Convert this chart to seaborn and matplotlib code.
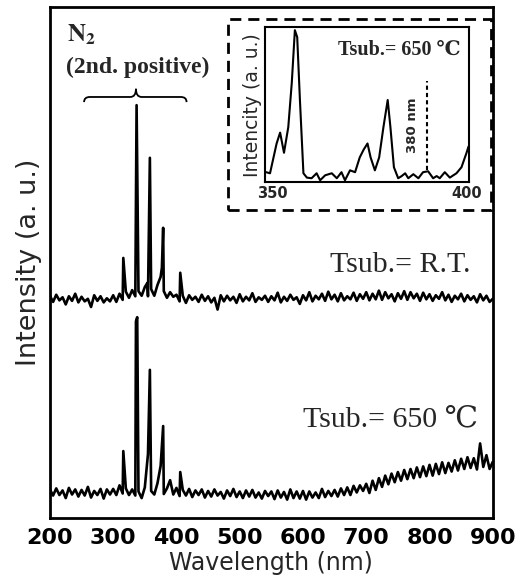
import numpy as np
import pandas as pd
import matplotlib
matplotlib.use('Agg')
import matplotlib.pyplot as plt
import seaborn as sns
from matplotlib.patches import Rectangle, PathPatch
from matplotlib.path import Path

# 主圖: 5 nm 取樣的基線 (讀圖估計, 任意單位 0-100)
wl_grid = np.arange(200, 901, 5)

rt_base = [
    43.5, 42.3, 43.7, 42.6, 43.2, 41.8, 43.4, 42.5, 43.9, 42.2,
    43.3, 42.4, 42.9, 41.3, 43.6, 42.5, 43.4, 42.2, 43.0, 42.4,
    43.6, 42.3, 43.9, 42.7, 44.3, 43.1, 44.6, 43.4, 44.4, 43.5,
    45.2, 43.4, 44.8, 43.5, 45.6, 47.2, 44.4, 43.1, 44.2, 43.3,
    43.7, 42.4, 43.5, 42.1, 43.6, 42.7, 43.3, 42.3, 43.7, 42.5,
    43.4, 42.2, 43.1, 40.8, 43.6, 42.4, 43.5, 42.6, 43.3, 42.1,
    43.8, 42.4, 43.3, 42.6, 44.0, 42.3, 43.2, 42.7, 43.5, 42.3,
    43.4, 42.6, 44.1, 42.2, 43.3, 42.5, 43.7, 42.7, 43.2, 41.9,
    43.6, 42.6, 44.2, 42.4, 43.5, 42.8, 43.9, 42.5, 44.3, 42.8,
    43.7, 42.4, 44.0, 42.6, 43.4, 42.8, 44.1, 42.5, 43.8, 42.9,
    44.2, 42.6, 43.9, 42.8, 44.5, 42.7, 44.2, 43.0, 43.8, 42.4,
    44.0, 42.9, 44.4, 42.7, 44.2, 43.0, 43.9, 42.5, 44.1, 42.8,
    43.8, 42.5, 43.6, 42.9, 44.2, 42.6, 43.7, 42.3, 43.5, 42.8,
    43.9, 42.4, 43.6, 42.7, 43.4, 42.2, 43.8, 42.6, 43.5, 42.3,
    42.9,
]

hot_base = [
    5.6, 4.4, 5.8, 4.5, 5.4, 3.9, 5.9, 4.6, 5.6, 4.2,
    5.5, 4.4, 6.1, 4.0, 5.3, 4.5, 5.7, 3.8, 5.6, 4.6,
    5.7, 4.5, 6.4, 4.8, 5.8, 4.5, 5.6, 4.4, 5.2, 3.9,
    6.0, 12.5, 5.3, 4.6, 6.8, 10.2, 4.7, 5.8, 7.4, 4.6,
    5.9, 4.3, 5.5, 4.4, 5.7, 4.1, 5.4, 4.5, 5.6, 4.0,
    5.3, 4.2, 5.6, 4.4, 5.1, 3.8, 5.4, 4.3, 5.7, 4.1,
    5.2, 3.9, 5.4, 4.2, 5.5, 4.0, 5.0, 3.8, 5.3, 4.3,
    5.2, 3.7, 5.4, 4.0, 5.1, 3.6, 5.6, 3.9, 5.2, 3.8,
    5.3, 3.6, 5.2, 4.0, 5.0, 3.9, 5.7, 4.1, 5.3, 4.3,
    5.5, 4.2, 5.8, 4.5, 6.0, 4.5, 6.3, 5.0, 6.4, 5.3,
    6.7, 4.9, 7.3, 5.5, 7.8, 6.1, 8.3, 6.6, 8.7, 7.0,
    9.0, 7.3, 9.4, 7.6, 9.6, 7.8, 9.9, 8.0, 10.1, 8.2,
    10.4, 8.3, 10.6, 8.6, 10.9, 8.8, 10.8, 9.1, 11.3, 9.3,
    11.6, 9.6, 11.9, 9.8, 11.7, 9.5, 14.6, 10.0, 12.3, 9.6,
    11.0,
]

# N2 第二正帶的尖峰
rt_peak_wl = [316, 337, 354, 358, 377, 379, 406]
rt_peak_int = [50.9, 80.8, 46.0, 70.5, 49.0, 56.8, 48.0]
hot_peak_wl = [316, 336, 338, 358, 379, 406]
hot_peak_int = [13.1, 38.5, 39.3, 29.0, 18.0, 9.0]

# 插圖 (650 ℃, 350-400 nm)
ins_wl = [348.3, 349.3, 351.0, 351.9, 352.9, 354.0, 354.9, 355.7, 356.3, 357.0,
          357.9, 358.8, 360.0, 361.3, 362.2, 363.5, 365.2, 366.5, 367.7, 368.6,
          369.9, 371.2, 372.4, 373.4, 374.4, 375.2, 376.3, 377.4, 378.5, 379.6,
          380.3, 381.2, 382.3, 383.2, 384.1, 384.9, 386.2, 387.5, 388.7, 390.0,
          391.3, 392.2, 393.0, 394.3, 395.6, 396.5, 397.3, 398.6, 399.9, 400.4]
ins_int = [0.065, 0.058, 0.25, 0.32, 0.19, 0.355, 0.64, 0.98, 0.935, 0.53,
           0.058, 0.03, 0.026, 0.058, 0.013, 0.045, 0.058, 0.026, 0.065, 0.013,
           0.077, 0.065, 0.16, 0.21, 0.25, 0.16, 0.077, 0.16, 0.355, 0.53,
           0.355, 0.097, 0.026, 0.04, 0.058, 0.026, 0.052, 0.026, 0.065, 0.071,
           0.026, 0.04, 0.026, 0.065, 0.03, 0.045, 0.058, 0.097, 0.19, 0.23]
ins_mark_wl = 389.8

main_ticks = [200, 300, 400, 500, 600, 700, 800, 900]
ins_ticks = [350, 400]


def spectrum(base, pk_wl, pk_int):
    d = pd.DataFrame({'wl': np.concatenate([wl_grid, pk_wl]),
                      'I': np.concatenate([base, pk_int])})
    return d.sort_values('wl')


df_rt = spectrum(rt_base, rt_peak_wl, rt_peak_int)
df_hot = spectrum(hot_base, hot_peak_wl, hot_peak_int)
df_ins = pd.DataFrame({'wl': ins_wl, 'I': ins_int})

sns.set_style('white')
plt.rcParams['mathtext.fontset'] = 'stix'
serif = ['Liberation Serif', 'DejaVu Serif', 'Noto Sans CJK JP']

fig = plt.figure(figsize=(5.31, 5.88), dpi=100)
ax = fig.add_axes([0.094, 0.119, 0.834, 0.869])

sns.lineplot(data=df_rt, x='wl', y='I', ax=ax, color='black', lw=1.9, estimator=None, sort=False)
sns.lineplot(data=df_hot, x='wl', y='I', ax=ax, color='black', lw=1.9, estimator=None, sort=False)

ax.set_xlim(200, 900)
ax.set_ylim(0, 100)
ax.set_xticks(main_ticks)
ax.set_xticklabels([str(t) for t in main_ticks], fontweight='bold')
ax.tick_params(axis='x', direction='in', length=9, width=1.5, labelsize=16, pad=7, colors='black')
ax.tick_params(axis='y', left=False, labelleft=False)
ax.set_xlabel('Wavelength (nm)', fontsize=17, labelpad=2)
ax.set_ylabel('Intensity (a. u.)', fontsize=19.5, labelpad=6)
for s in ax.spines.values():
    s.set_color('black')
    s.set_linewidth(2)

# 標註
ax.text(227, 94.5, r'$\mathbf{N}_\mathbf{2}$', fontsize=18, ha='left', va='center')
ax.text(226, 88.1, '(2nd. positive)', family=serif, fontweight='bold', fontsize=17,
        ha='left', va='center')
ax.text(642, 49.5, 'Tsub.= R.T.', family=serif, fontsize=21.5, ha='left', va='center')
ax.text(600, 19.2, 'Tsub.= 650 ℃', family=serif, fontsize=21.5, ha='left', va='center')

# 大括號
x0, x1, xm, yb, a = 254, 416, 336, 82.4, 9
verts = [(x0, yb - 1.0), (x0, yb), (x0 + a, yb), (xm - a, yb), (xm, yb), (xm, yb + 1.6),
         (xm, yb), (xm + a, yb), (x1 - a, yb), (x1, yb), (x1, yb - 1.0)]
codes = [Path.MOVETO, Path.CURVE3, Path.CURVE3, Path.LINETO, Path.CURVE3, Path.CURVE3,
         Path.CURVE3, Path.CURVE3, Path.LINETO, Path.CURVE3, Path.CURVE3]
ax.add_patch(PathPatch(Path(verts, codes), fill=False, lw=1.3, color='black'))

# 插圖
ins = fig.add_axes([0.499, 0.690, 0.384, 0.264])
sns.lineplot(data=df_ins, x='wl', y='I', ax=ins, color='black', lw=1.5, estimator=None, sort=False)
ins.axvline(ins_mark_wl, ymin=0.077, ymax=0.65, color='black', ls=(0, (2, 1.5)), lw=1.5)
ins.set_xlim(348, 400.5)
ins.set_ylim(0, 1.0)
ins.set_xticks(ins_ticks)
ins.set_xticklabels([str(t) for t in ins_ticks], fontweight='bold')
ins.tick_params(axis='x', length=0, labelsize=10.5, pad=3)
ins.tick_params(axis='y', left=False, labelleft=False)
ins.set_xlabel('')
ins.set_ylabel('Intencity (a. u.)', fontsize=13.5, labelpad=2)
for s in ins.spines.values():
    s.set_color('black')
    s.set_linewidth(1.5)
ins.text(0.358, 0.85, 'Tsub.= 650 ℃', family=serif, fontweight='bold', fontsize=14.5,
         transform=ins.transAxes, ha='left', va='center')
ins.text(0.725, 0.37, '380 nm', fontweight='bold', fontsize=9.5, rotation=90,
         transform=ins.transAxes, ha='center', va='center')

fig.add_artist(Rectangle((0.429, 0.643), 0.496, 0.325, transform=fig.transFigure,
                         fill=False, lw=2, ls=(0, (4, 2.5)), color='black'))

plt.savefig('out.png', dpi=100)
